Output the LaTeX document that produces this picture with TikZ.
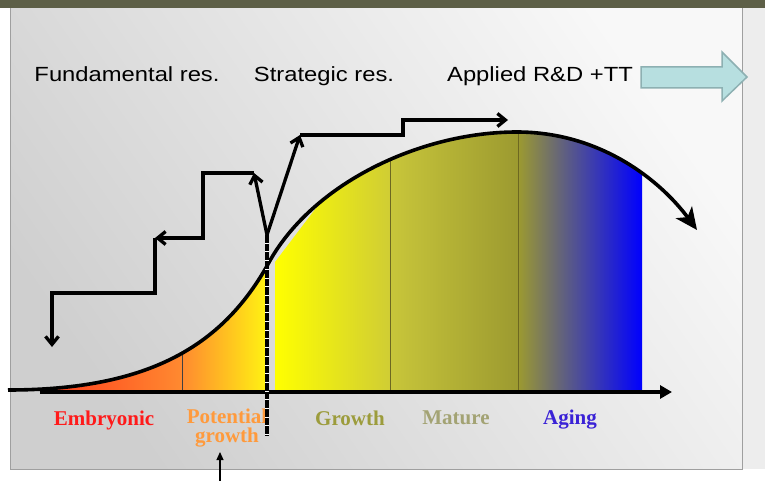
\documentclass[tikz,border=0pt]{standalone}
\usepackage{fontspec}
\setmainfont{Liberation Serif}
\setsansfont{Liberation Sans}
\usetikzlibrary{arrows.meta}

\definecolor{slidebar}{HTML}{5D5F47}
\definecolor{slidedark}{HTML}{CFCFCF}
\definecolor{slidelight}{HTML}{F8F8F8}
\definecolor{sideband}{HTML}{EDEDED}
\definecolor{emb1}{HTML}{FF3A1C}
\definecolor{emb2}{HTML}{FF8A30}
\definecolor{pot2}{HTML}{FFF412}
\definecolor{gro1}{HTML}{FFFF00}
\definecolor{gro2}{HTML}{D0CD34}
\definecolor{mat1}{HTML}{C8C63A}
\definecolor{mat2}{HTML}{9C9A30}
\definecolor{agemid}{HTML}{5E5E82}
\definecolor{agefull}{HTML}{0000FF}
\definecolor{ttfill}{HTML}{B7DFE0}
\definecolor{ttedge}{HTML}{8DB0B2}
\definecolor{embtxt}{HTML}{FF1A1A}
\definecolor{pottxt}{HTML}{FF9A3C}
\definecolor{grotxt}{HTML}{9C9C3C}
\definecolor{mattxt}{HTML}{A3A374}
\definecolor{agetxt}{HTML}{3A22D6}

\newcommand{\stretchx}[1]{\scalebox{1.16}[1]{#1}}
\newcommand{\lifecurve}{(8,390) .. controls (150,390) and (222,345) .. (267,266) .. controls (310,184) and (420,132) .. (517,132) .. controls (600,132) and (660,180) .. (697,230)}

\tikzset{
  research/.style={font=\sffamily\fontsize{20.5}{24}\selectfont, anchor=base},
  phase/.style={font=\bfseries\fontsize{21}{19}\selectfont, anchor=base, align=center},
  stair/.style={line width=3.3pt, -{Straight Barb[length=8pt,width=13pt]}},
  divider/.style={line width=1pt}
}

\begin{document}
\begin{tikzpicture}[x=1pt, y=-1pt]
\useasboundingbox (0,0) rectangle (765,481);
\fill[white] (0,0) rectangle (765,481);
\fill[sideband] (742,8) rectangle (765,469);
\shade[shading=axis, top color=slidelight, bottom color=slidedark, shading angle=-55] (10,8) rectangle (742,469);
\draw[gray!75, line width=1pt] (10,8) rectangle (742,469);
\fill[slidebar] (0,0) rectangle (765,8);

\begin{scope}
\clip \lifecurve |- (8,392) -- cycle;
\shade[left color=emb1, right color=emb2] (40,120) rectangle (182,392);
\shade[left color=emb2, right color=pot2] (182,120) rectangle (268,392);
\begin{scope}
\clip (275,262) -- (335,183) -- (335,100) -- (700,100) -- (700,400) -- (275,400) -- cycle;
\shade[left color=gro1, right color=gro2] (275,120) rectangle (390,392);
\shade[left color=mat1, right color=mat2] (390,120) rectangle (518,392);
\shade[left color=mat2, right color=agemid] (518,120) rectangle (565,392);
\shade[left color=agemid, right color=agefull] (565,120) rectangle (642,392);
\end{scope}
\end{scope}
\draw[divider, black!75] (182,351) -- (182,392);
\draw[divider, olive!70!black] (390,159) -- (390,392);
\draw[divider, olive!70!black] (518,132) -- (518,392);

\coordinate (origin) at (40,392);
\coordinate (axisend) at (672,392);
\draw[line width=4.5pt, -{Triangle[length=12pt,width=13pt]}] (origin) -- (axisend);
\draw[line width=3.6pt, -{Stealth[length=22pt,width=20pt,inset=6pt]}] \lifecurve;

\node[research] (fund) at (127,82) {\stretchx{Fundamental res.}};
\node[research] (strat) at (324,82) {\stretchx{Strategic res.}};
\node[research] (appl) at (540,82) {\stretchx{Applied R\&D +TT}};
\draw[ttedge, fill=ttfill, line width=1.5pt] (641,67) -- (722,67) -- (722,52) -- (747,77) -- (722,101) -- (722,88) -- (641,88) -- cycle;

\node[phase, text=embtxt] (emb) at (104,425) {Embryonic};
\node[phase, text=pottxt, anchor=center] (pot) at (227,428.5) {Potential\\growth};
\node[phase, text=grotxt] (gro) at (350,425) {Growth};
\node[phase, text=mattxt] (mat) at (456,424) {Mature};
\node[phase, text=agetxt] (age) at (570,424) {Aging};

\coordinate (fork) at (267,235);
\coordinate (dashend) at (267,436);
\draw[white, line width=4.8pt] (fork) -- (dashend);
\draw[line width=4.8pt, dash pattern=on 7.7pt off 1pt] (fork) -- (dashend);

\coordinate (fundtip) at (254,173);
\coordinate (strattip) at (300,135);
\coordinate (fundstep) at (155,238);
\coordinate (fundend) at (52,347);
\coordinate (applend) at (508,120);
\draw[stair] (fork) -- (fundtip);
\draw[stair] (fork) -- (strattip);
\draw[stair] (fundtip) -- (203,173) -- (203,238) -- (fundstep);
\draw[stair] (fundstep) -- (155,293) -- (52,293) -- (fundend);
\draw[stair] (strattip) -- (403,135) -- (403,120) -- (applend);

\coordinate (pointer) at (220,481);
\coordinate (pointtip) at (220,452);
\draw[line width=1.2pt, -{Triangle[length=8pt,width=7pt]}] (pointer) -- (pointtip);
\end{tikzpicture}
\end{document}
